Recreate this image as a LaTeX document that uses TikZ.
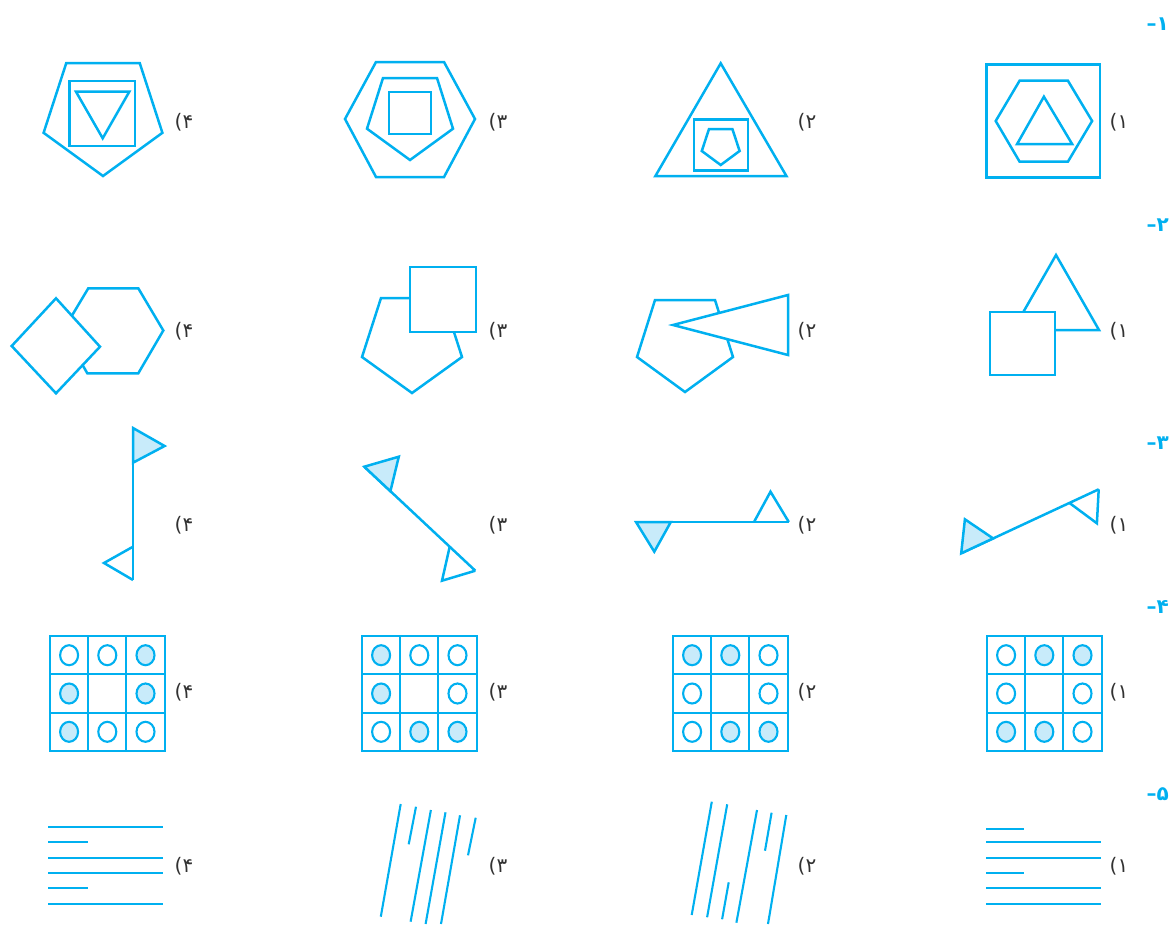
\documentclass[tikz,border=0pt]{standalone}
\usepackage{fontspec}
\newfontfamily\fa[Script=Arabic]{DejaVu Sans}
\newfontfamily\lat{DejaVu Sans}
\definecolor{cy}{RGB}{0,176,240}
\definecolor{lb}{RGB}{200,235,250}
\definecolor{tx}{RGB}{50,50,50}
\tikzset{
  fig/.style={draw=cy,line width=2.5pt},
  thin/.style={draw=cy,line width=2.1pt},
  lbl/.style={text=tx,font=\fontsize{20}{20}\selectfont,inner sep=0pt},
  hdr/.style={text=cy,font=\bfseries\fontsize{20}{20}\selectfont,inner sep=0pt,anchor=east}
}
\newcommand\optlabel[3]{\node[lbl] (#1) at (#2) {\mbox{\lat(}\mbox{\fa #3}};}
\newcommand\hdrlabel[3]{\node[hdr] (#1) at (#2) {\mbox{\lat\bfseries\textendash}\mbox{\fa\bfseries #3}};}
\newcommand\gridfig[3]{%
  \draw[thin] (#1,#2) rectangle ++(114.6,115);
  \draw[thin] (#1+38.2,#2) -- ++(0,115);
  \draw[thin] (#1+76.4,#2) -- ++(0,115);
  \draw[thin] (#1,#2+38.3) -- ++(114.6,0);
  \draw[thin] (#1,#2+76.7) -- ++(114.6,0);
  \foreach \f [count=\i from 0] in {#3} {
    \pgfmathtruncatemacro\cc{mod(\i,3)}
    \pgfmathtruncatemacro\rr{div(\i,3)}
    \ifnum\f=1 \draw[thin,fill=lb] (#1+19.1+38.2*\cc,#2+19.2+38.3*\rr) ellipse[x radius=9,y radius=10]; \fi
    \ifnum\f=0 \draw[thin,fill=white] (#1+19.1+38.2*\cc,#2+19.2+38.3*\rr) ellipse[x radius=9,y radius=10]; \fi
  }
}
\begin{document}
\begin{tikzpicture}[x=1pt,y=-1pt]
\useasboundingbox (0,0) rectangle (1175,926);
% ---------- headers
\hdrlabel{h1}{1169,24}{۱}
\hdrlabel{h2}{1169,225}{۲}
\hdrlabel{h3}{1169,443}{۳}
\hdrlabel{h4}{1169,607}{۴}
\hdrlabel{h5}{1169,794}{۵}
% ---------- row 1
\draw[fig] (66.3,63)--(139.7,63)--(162.4,132.8)--(103,176)--(43.6,132.8)--cycle;
\draw[fig] (69.3,81) rectangle (135,146);
\draw[fig] (76,91.7)--(129.3,91.7)--(102.7,138.3)--cycle;
\draw[fig] (345,119)--(376,62)--(444,62)--(475,119)--(444,177)--(376,177)--cycle;
\draw[fig] (383,78)--(437,78)--(453,128.7)--(410,160)--(367,128.7)--cycle;
\draw[fig] (389,92) rectangle (431,134);
\draw[fig] (720.7,63.3)--(786.4,176)--(655.4,176)--cycle;
\draw[fig] (694,119.3) rectangle (748,170.7);
\draw[fig] (709,129)--(732.4,129)--(739.6,151)--(720.7,165)--(701.8,151)--cycle;
\draw[fig] (986.4,64.3) rectangle (1100,177.7);
\draw[fig] (995.7,121)--(1019.6,80.7)--(1067.9,80.7)--(1092.1,121)--(1067.9,161.7)--(1019.6,161.7)--cycle;
\draw[fig] (1043.9,96.7)--(1072.1,144)--(1017.1,144)--cycle;
\optlabel{a4}{184,122}{۴}
\optlabel{a3}{498,122}{۳}
\optlabel{a2}{807,122}{۲}
\optlabel{a1}{1119,122}{۱}
% ---------- row 2
\draw[fig] (163.3,330.5)--(138.3,288.3)--(88.3,288.3)--(63,330.5)--(87.3,373.3)--(138.3,373.3)--cycle;
\draw[fig,fill=white] (56,298.3)--(100,346.7)--(56,393.3)--(11.7,346)--cycle;
\draw[fig] (381,298)--(443,298)--(462,357)--(412,393)--(362,357)--cycle;
\draw[fig,fill=white] (410,267) rectangle (476,332);
\draw[fig] (655,300)--(715,300)--(733,357)--(685,392)--(637,357)--cycle;
\draw[fig,fill=white] (673,325)--(788,295)--(788,355)--cycle;
\draw[fig] (1056,255)--(1099,330)--(1013,330)--cycle;
\draw[fig,fill=white] (990,312) rectangle (1055,375);
\optlabel{b4}{184,331}{۴}
\optlabel{b3}{498,331}{۳}
\optlabel{b2}{807,331}{۲}
\optlabel{b1}{1119,331}{۱}
% ---------- row 3
\draw[fig] (133,428)--(133,580);
\draw[fig,fill=lb] (133,428)--(164.6,446)--(133,462.7)--cycle;
\draw[fig] (133,546.7)--(104,563)--(133,580);
\draw[fig] (364.3,466.7)--(475.3,570.7);
\draw[fig,fill=lb] (364.3,466.7)--(398.8,456.7)--(390.4,491.2)--cycle;
\draw[fig] (449.7,546.7)--(442,580.7)--(475.3,570.7);
\draw[fig] (636,522)--(788.8,522);
\draw[fig,fill=lb] (636,522)--(670.8,522)--(654.3,551.7)--cycle;
\draw[fig] (754,522)--(770.5,491.7)--(788.8,522);
\draw[fig] (961.2,553.3)--(1098.7,489.3);
\draw[fig,fill=lb] (961.2,553.3)--(964.9,519.3)--(993.1,538.4)--cycle;
\draw[fig] (1069.4,502.9)--(1096.9,523.3)--(1098.7,489.3);
\optlabel{c4}{184,525}{۴}
\optlabel{c3}{498,525}{۳}
\optlabel{c2}{807,525}{۲}
\optlabel{c1}{1119,525}{۱}
% ---------- row 4
\gridfig{50}{636}{0,0,1,1,2,1,1,0,0}
\gridfig{362}{636}{1,0,0,1,2,0,0,1,1}
\gridfig{673}{636}{1,1,0,0,2,0,0,1,1}
\gridfig{987}{636}{0,1,1,0,2,0,1,1,0}
\optlabel{d4}{184,692}{۴}
\optlabel{d3}{498,692}{۳}
\optlabel{d2}{807,692}{۲}
\optlabel{d1}{1119,692}{۱}
% ---------- row 5
\draw[thin] (48,826.7)--(163,826.7);
\draw[thin] (48,842.3)--(88,842.3);
\draw[thin] (48,857.7)--(163,857.7);
\draw[thin] (48,873)--(163,873);
\draw[thin] (48,888.3)--(88,888.3);
\draw[thin] (48,903.7)--(163,903.7);
\draw[thin] (400.7,804)--(380.8,916.7);
\draw[thin] (416,806.7)--(408.7,844.3);
\draw[thin] (430.9,810)--(410.6,921.7);
\draw[thin] (445.5,812.3)--(425.6,924);
\draw[thin] (460,815.3)--(441,924);
\draw[thin] (475.7,817.7)--(468,855.3);
\draw[thin] (711.8,801.7)--(691.7,915);
\draw[thin] (727.2,804.3)--(707.1,917.3);
\draw[thin] (728.7,882.3)--(722.1,919.3);
\draw[thin] (757,810)--(736.4,922.7);
\draw[thin] (771.6,812.7)--(765,850.7);
\draw[thin] (786.3,815)--(768,924);
\draw[thin] (986,829)--(1023.5,829);
\draw[thin] (986,842.3)--(1100.5,842.3);
\draw[thin] (986,857.7)--(1100.5,857.7);
\draw[thin] (986,873)--(1023.5,873);
\draw[thin] (986,888.3)--(1100.5,888.3);
\draw[thin] (986,903.7)--(1100.5,903.7);
\optlabel{e4}{184,866}{۴}
\optlabel{e3}{498,866}{۳}
\optlabel{e2}{807,866}{۲}
\optlabel{e1}{1119,866}{۱}
\end{tikzpicture}
\end{document}
